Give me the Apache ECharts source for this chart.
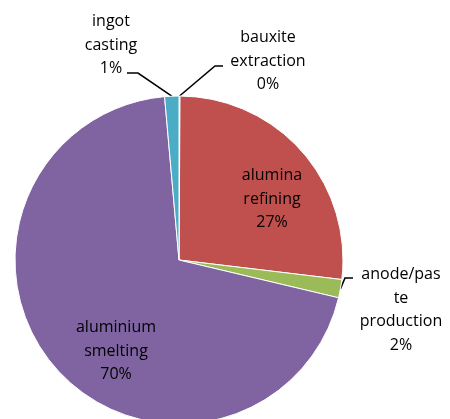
<!DOCTYPE html>
<html>
<head>
<meta charset="utf-8">
<script src="https://cdn.jsdelivr.net/npm/echarts@6/dist/echarts.min.js"></script>
<style>
html,body{margin:0;padding:0;background:#fff;}
#chart{width:450px;height:419px;}
</style>
</head>
<body>
<div id="chart"></div>
<script>
// Data
const categories = ['bauxite extraction', 'alumina refining', 'anode/paste production', 'aluminium smelting', 'ingot casting'];
const displayNames = ['bauxite\nextraction', 'alumina\nrefining', 'anode/pas\nte\nproduction', 'aluminium\nsmelting', 'ingot\ncasting'];
const values = [0.1, 26.8, 1.8, 69.9, 1.4];
const colors = ['#4F81BD', '#C0504D', '#9BBB59', '#8064A2', '#4BACC6'];

// Label placement (layout only)
const labelPos = [[268, 61], [272, 199], [401, 310], [116, 351], [111, 45]];
const outsideLabel = [true, false, true, false, true];
// leader-line elbow and end, relative to label centre
const lineElbow = [[-53, 5], null, [-56, -32], null, [27, 28]];
const lineEnd = [[-45, 5], null, [-48, -32], null, [16, 28]];

const chart = echarts.init(document.getElementById('chart'), null, {renderer: 'canvas'});
chart.setOption({
  animation: false,
  backgroundColor: '#fff',
  series: [{
    type: 'pie',
    center: [179, 260],
    radius: 164,
    startAngle: 90,
    clockwise: true,
    avoidLabelOverlap: false,
    itemStyle: {borderColor: '#fff', borderWidth: 1},
    label: {
      show: true,
      position: 'outside',
      fontFamily: 'Open Sans',
      fontSize: 16,
      lineHeight: 23.5,
      color: '#000',
      align: 'center',
      formatter: function (p) {
        return displayNames[p.dataIndex] + '\n' + Math.round(p.percent) + '%';
      }
    },
    labelLine: {show: true, lineStyle: {color: '#000', width: 1.6}, length: 10, length2: 10},
    labelLayout: function (params) {
      const i = params.dataIndex;
      const p = labelPos[i];
      const out = {x: p[0], y: p[1], align: 'center', verticalAlign: 'middle'};
      if (outsideLabel[i] && params.labelLinePoints) {
        const start = params.labelLinePoints[0];
        out.labelLinePoints = [
          [start[0], start[1]],
          [p[0] + lineElbow[i][0], p[1] + lineElbow[i][1]],
          [p[0] + lineEnd[i][0], p[1] + lineEnd[i][1]]
        ];
      }
      return out;
    },
    data: categories.map(function (c, i) {
      return {
        name: c,
        value: values[i],
        itemStyle: {color: colors[i]},
        labelLine: {show: outsideLabel[i]}
      };
    })
  }]
});
</script>
</body>
</html>
